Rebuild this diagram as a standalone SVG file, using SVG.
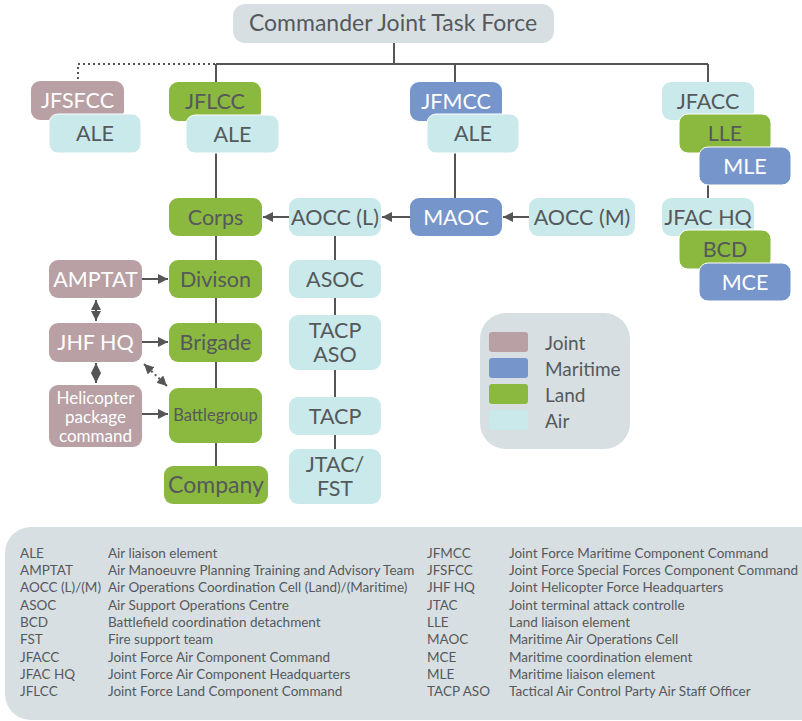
<svg xmlns="http://www.w3.org/2000/svg" width="802" height="721" viewBox="0 0 802 721">
<defs>
<marker id="ah" markerWidth="11" markerHeight="11" refX="10" refY="5" orient="auto-start-reverse" markerUnits="userSpaceOnUse">
<path d="M0,0 L10,5 L0,10 Z" fill="#555"/>
</marker>
</defs>
<style>
text{font-family:"Lato","Liberation Sans",sans-serif;}
.j{fill:#b8a0a5}
.m{fill:#7695cb}
.l{fill:#8bb83f}
.a{fill:#c9e9eb}
.g{fill:#d8dfe2}
.ov{stroke:#fff;stroke-width:1}
.t{font-size:21.5px;fill:#55595b;text-anchor:middle}
.w{font-size:21.5px;fill:#fff;text-anchor:middle}
.ln{stroke:#555;stroke-width:2;fill:none}
.dt{stroke:#555;stroke-width:2;fill:none;stroke-dasharray:2 3}
.gl{font-size:13.5px;fill:#55595b}
.lg{font-size:19px;fill:#55595b}
</style>
<rect width="802" height="721" fill="#fff"/>
<g id="connectors">
<path class="ln" d="M394,43 V64 M216,64 H708 M216,64 V82 M455,64 V82 M708,64 V82"/>
<path class="dt" d="M215,64 H78 V81"/>
<path class="ln" d="M216,153 V198 M216,236 V466 M455,153 V198 M708,185 V198 M335,236 V449"/>
<line class="ln" x1="529" y1="217" x2="503" y2="217" marker-end="url(#ah)"/>
<line class="ln" x1="410" y1="217" x2="382" y2="217" marker-end="url(#ah)"/>
<line class="ln" x1="289" y1="217" x2="263" y2="217" marker-end="url(#ah)"/>
<line class="ln" x1="142" y1="279" x2="168" y2="279" marker-end="url(#ah)"/>
<line class="ln" x1="142" y1="342" x2="168" y2="342" marker-end="url(#ah)"/>
<line class="ln" x1="142" y1="414" x2="168" y2="414" marker-end="url(#ah)"/>
<line class="ln" x1="96" y1="300" x2="96" y2="321" marker-start="url(#ah)" marker-end="url(#ah)"/>
<line class="ln" x1="96" y1="363" x2="96" y2="383" marker-start="url(#ah)" marker-end="url(#ah)"/>
<line class="dt" x1="144" y1="364" x2="167" y2="386" marker-start="url(#ah)" marker-end="url(#ah)"/>
</g>
<g id="cjtf"><rect class="g" x="233" y="4" width="321" height="39" rx="12"/><text class="t" x="393" y="31" style="font-size:23px">Commander Joint Task Force</text></g>
<g id="jfsfcc"><rect class="j" x="31" y="81" width="93" height="39" rx="9"/><text class="w" x="77.5" y="108">JFSFCC</text></g>
<g id="ale1"><rect class="a ov" x="49" y="114" width="92" height="39" rx="9"/><text class="t" x="95" y="141">ALE</text></g>
<g id="jflcc"><rect class="l" x="169" y="82" width="92" height="39" rx="9"/><text class="t" x="215" y="109">JFLCC</text></g>
<g id="ale2"><rect class="a ov" x="186" y="115" width="93" height="38" rx="9"/><text class="t" x="232.5" y="142">ALE</text></g>
<g id="jfmcc"><rect class="m" x="410" y="82" width="92" height="39" rx="9"/><text class="w" x="456" y="109">JFMCC</text></g>
<g id="ale3"><rect class="a ov" x="427" y="114" width="92" height="39" rx="9"/><text class="t" x="473" y="141">ALE</text></g>
<g id="jfacc"><rect class="a" x="662" y="82" width="92" height="38" rx="9"/><text class="t" x="708" y="109">JFACC</text></g>
<g id="lle"><rect class="l ov" x="679" y="114" width="92" height="39" rx="9"/><text class="t" x="725" y="141">LLE</text></g>
<g id="mle"><rect class="m ov" x="699" y="147" width="92" height="38" rx="9"/><text class="w" x="745" y="174">MLE</text></g>
<g id="jfachq"><rect class="a" x="662" y="198" width="92" height="38" rx="9"/><text class="t" x="708" y="225">JFAC HQ</text></g>
<g id="bcd"><rect class="l ov" x="679" y="230" width="92" height="39" rx="9"/><text class="t" x="725" y="257">BCD</text></g>
<g id="mce"><rect class="m ov" x="699" y="263" width="92" height="38" rx="9"/><text class="w" x="745" y="290">MCE</text></g>
<g id="corps"><rect class="l" x="169" y="198" width="93" height="38" rx="9"/><text class="t" x="215.5" y="225">Corps</text></g>
<g id="aoccl"><rect class="a" x="289" y="198" width="92" height="38" rx="9"/><text class="t" x="335" y="225">AOCC (L)</text></g>
<g id="maoc"><rect class="m" x="410" y="198" width="92" height="38" rx="9"/><text class="w" x="456" y="225">MAOC</text></g>
<g id="aoccm"><rect class="a" x="529" y="198" width="106" height="38" rx="9"/><text class="t" x="582" y="225">AOCC (M)</text></g>
<g id="divison"><rect class="l" x="169" y="260" width="93" height="38" rx="9"/><text class="t" x="215.5" y="287">Divison</text></g>
<g id="amptat"><rect class="j" x="49" y="260" width="93" height="38" rx="9"/><text class="w" x="95.5" y="287">AMPTAT</text></g>
<g id="brigade"><rect class="l" x="169" y="323" width="93" height="39" rx="9"/><text class="t" x="215.5" y="350">Brigade</text></g>
<g id="jhfhq"><rect class="j" x="49" y="323" width="93" height="39" rx="9"/><text class="w" x="95.5" y="350">JHF HQ</text></g>
<g id="battlegroup"><rect class="l" x="169" y="388" width="93" height="55" rx="9"/><text class="t" x="215.5" y="421" style="font-size:16.5px">Battlegroup</text></g>
<g id="heli"><rect class="j" x="49" y="385" width="93" height="62" rx="9"/><text class="w" x="95.5" style="font-size:17px"><tspan x="95.5" y="404">Helicopter</tspan><tspan x="95.5" y="423">package</tspan><tspan x="95.5" y="442">command</tspan></text></g>
<g id="company"><rect class="l" x="164" y="466" width="104" height="38" rx="9"/><text class="t" x="216" y="493" style="font-size:23px">Company</text></g>
<g id="asoc"><rect class="a" x="289" y="260" width="92" height="38" rx="9"/><text class="t" x="335" y="287">ASOC</text></g>
<g id="tacpaso"><rect class="a" x="289" y="315" width="92" height="55" rx="9"/><text class="t"><tspan x="335" y="338">TACP</tspan><tspan x="335" y="362">ASO</tspan></text></g>
<g id="tacp"><rect class="a" x="289" y="397" width="92" height="38" rx="9"/><text class="t" x="335" y="424">TACP</text></g>
<g id="jtac"><rect class="a" x="289" y="449" width="92" height="55" rx="9"/><text class="t"><tspan x="335" y="472">JTAC/</tspan><tspan x="335" y="496">FST</tspan></text></g>
<g id="legend">
<rect class="g" x="480" y="313" width="150" height="136" rx="26"/>
<rect class="j" x="489" y="332" width="39" height="20" rx="3"/>
<rect class="m" x="489" y="358" width="39" height="20" rx="3"/>
<rect class="l" x="489" y="384" width="39" height="20" rx="3"/>
<rect class="a" x="489" y="410" width="39" height="20" rx="3"/>
<text class="lg" x="545" y="350">Joint</text>
<text class="lg" x="545" y="376">Maritime</text>
<text class="lg" x="545" y="402">Land</text>
<text class="lg" x="545" y="428">Air</text>
</g>
<g id="glossary">
<rect class="g" x="5" y="527" width="830" height="193" rx="26"/>
<text class="gl" x="20" y="558">ALE</text><text class="gl" x="108" y="558">Air liaison element</text>
<text class="gl" x="20" y="575">AMPTAT</text><text class="gl" x="108" y="575">Air Manoeuvre Planning Training and Advisory Team</text>
<text class="gl" x="20" y="592">AOCC (L)/(M)</text><text class="gl" x="108" y="592">Air Operations Coordination Cell (Land)/(Maritime)</text>
<text class="gl" x="20" y="610">ASOC</text><text class="gl" x="108" y="610">Air Support Operations Centre</text>
<text class="gl" x="20" y="627">BCD</text><text class="gl" x="108" y="627">Battlefield coordination detachment</text>
<text class="gl" x="20" y="644">FST</text><text class="gl" x="108" y="644">Fire support team</text>
<text class="gl" x="20" y="662">JFACC</text><text class="gl" x="108" y="662">Joint Force Air Component Command</text>
<text class="gl" x="20" y="679">JFAC HQ</text><text class="gl" x="108" y="679">Joint Force Air Component Headquarters</text>
<text class="gl" x="20" y="696">JFLCC</text><text class="gl" x="108" y="696">Joint Force Land Component Command</text>
<text class="gl" x="427" y="558">JFMCC</text><text class="gl" x="509" y="558">Joint Force Maritime Component Command</text>
<text class="gl" x="427" y="575">JFSFCC</text><text class="gl" x="509" y="575">Joint Force Special Forces Component Command</text>
<text class="gl" x="427" y="592">JHF HQ</text><text class="gl" x="509" y="592">Joint Helicopter Force Headquarters</text>
<text class="gl" x="427" y="610">JTAC</text><text class="gl" x="509" y="610">Joint terminal attack controlle</text>
<text class="gl" x="427" y="627">LLE</text><text class="gl" x="509" y="627">Land liaison element</text>
<text class="gl" x="427" y="644">MAOC</text><text class="gl" x="509" y="644">Maritime Air Operations Cell</text>
<text class="gl" x="427" y="662">MCE</text><text class="gl" x="509" y="662">Maritime coordination element</text>
<text class="gl" x="427" y="679">MLE</text><text class="gl" x="509" y="679">Maritime liaison element</text>
<text class="gl" x="427" y="696">TACP ASO</text><text class="gl" x="509" y="696">Tactical Air Control Party Air Staff Officer</text>
</g>
</svg>
